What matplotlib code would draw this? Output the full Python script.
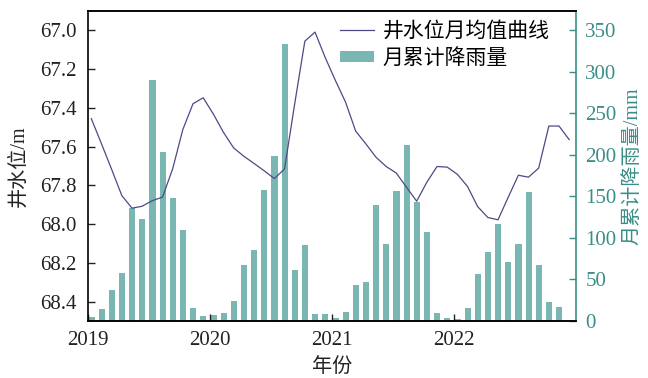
import numpy as np
import matplotlib
matplotlib.use("Agg")
import matplotlib.pyplot as plt

plt.rcParams['font.family'] = ['Liberation Serif', 'Noto Sans CJK SC']
plt.rcParams['axes.unicode_minus'] = False

# monthly data, Jan 2019 .. Dec 2022
year_start = 2019
level = [67.456, 67.586, 67.718, 67.853, 67.918, 67.908, 67.879, 67.861, 67.715, 67.512, 67.379, 67.348,
         67.432, 67.527, 67.607, 67.650, 67.687, 67.725, 67.765, 67.716, 67.380, 67.056, 67.009, 67.140,
         67.258, 67.370, 67.520, 67.586, 67.655, 67.703, 67.737, 67.810, 67.882, 67.784, 67.703, 67.706,
         67.743, 67.806, 67.910, 67.966, 67.978, 67.862, 67.748, 67.758, 67.711, 67.494, 67.494, 67.564]
rain = [5, 14, 37, 58, 136, 123, 290, 203, 148, 109, 16, 6,
        7, 9, 24, 67, 85, 157, 199, 333, 61, 91, 8, 8,
        4, 11, 43, 47, 140, 92, 156, 212, 143, 107, 9, 4,
        2.5, 15, 57, 83, 117, 71, 93, 155, 67, 23, 17, 0]
year_ticks = [2019, 2020, 2021, 2022]
level_ticks = [67.0, 67.2, 67.4, 67.6, 67.8, 68.0, 68.2, 68.4]
rain_ticks = [0, 50, 100, 150, 200, 250, 300, 350]

months = year_start + np.arange(len(level)) / 12.0

bar_color = '#7ab7b3'
line_color = '#4b4a86'
teal = '#3a8d88'
dark = '#222222'

fig = plt.figure(figsize=(6.48, 3.78), dpi=100)
ax = fig.add_axes([0.1353, 0.151, 0.7531, 0.820])
ax2 = ax.twinx()

# rain bars on the right axis
bars = ax2.bar(months + 0.006, rain, width=0.05, align='edge', color=bar_color)
ax2.set_ylim(0, 373)
ax2.set_yticks(rain_ticks)
ax2.set_ylabel('月累计降雨量/mm', color=teal, fontsize=14.5, labelpad=5)
ax2.tick_params(axis='y', direction='in', colors=teal, labelsize=15, length=5, width=1, pad=7)
ax2.spines['right'].set_color(teal)
ax2.spines['right'].set_linewidth(1.2)

# water level line on the left axis, inverted
line, = ax.plot(months + 0.03, level, color=line_color, lw=0.9)
ax.set_ylim(68.5, 66.9)
ax.set_yticks(level_ticks)
ax.set_yticklabels([f'{v:.1f}' for v in level_ticks])
ax.set_xlim(2019, 2023)
ax.set_xticks(year_ticks)
ax.set_xticklabels([str(y) for y in year_ticks])
ax.set_ylabel('井水位/m', fontsize=14.5, color=dark, labelpad=8)
ax.set_xlabel('年份', fontsize=14.5, color=dark, labelpad=6)
ax.tick_params(direction='in', labelsize=15, length=5, width=1, colors=dark)
ax.tick_params(axis='y', pad=8)
ax.tick_params(axis='x', pad=7)
for s in ['left', 'top', 'bottom']:
    ax.spines[s].set_linewidth(1.2)
    ax2.spines[s].set_linewidth(1.2)
    ax2.spines[s].set_color(dark)
ax2.spines['left'].set_visible(False)
ax.spines['right'].set_visible(False)

ax.set_zorder(ax2.get_zorder() + 1)
ax.patch.set_visible(False)

ax.legend([line, bars], ['井水位月均值曲线', '月累计降雨量'], loc='upper left',
          bbox_to_anchor=(340 / 648, 1 - 22 / 378), bbox_transform=fig.transFigure,
          frameon=False, fontsize=15, handlelength=1.65, handleheight=0.4,
          handletextpad=0.4, labelspacing=0.35, borderpad=0, borderaxespad=0)

fig.savefig('out.png', dpi=100)
